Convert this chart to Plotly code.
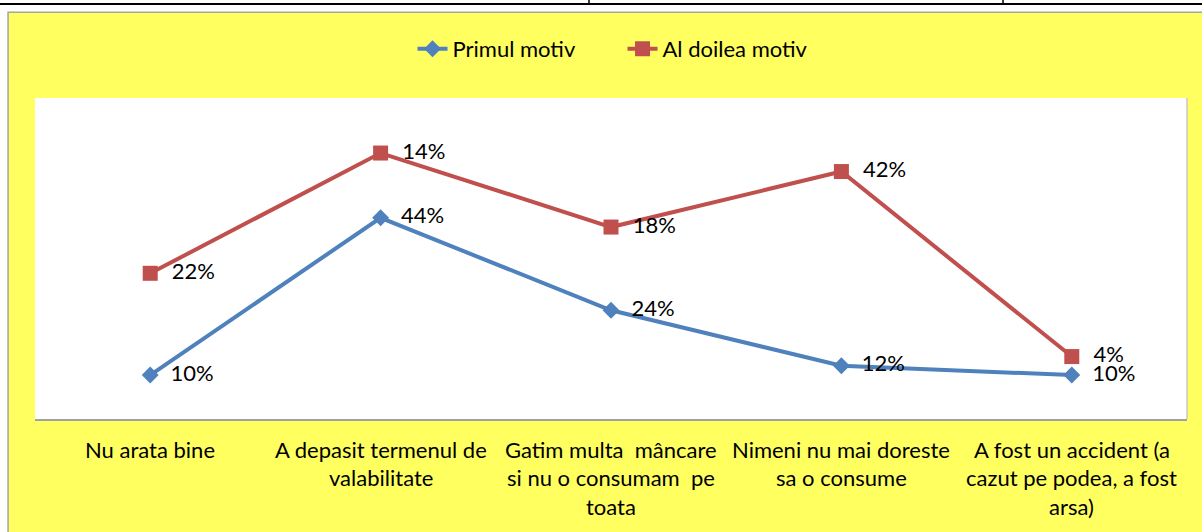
import plotly.graph_objects as go

categories = [
    "Nu arata bine",
    "A depasit termenul de<br>valabilitate",
    "Gatim multa \u00a0mâncare<br>si nu o consumam \u00a0pe<br>toata",
    "Nimeni nu mai doreste<br>sa o consume",
    "A fost un accident (a<br>cazut pe podea, a fost<br>arsa)",
]
primul_motiv = [10, 44, 24, 12, 10]
al_doilea_motiv = [22, 14, 18, 42, 4]
series_names = ["Primul motiv", "Al doilea motiv"]

BLUE = "#4F81BD"
RED = "#C0504D"
YELLOW = "#FFFF60"
FONT = "Lato"
FS = 22

x_idx = list(range(len(categories)))

fig = go.Figure()
fig.add_trace(go.Scatter(
    x=x_idx, y=primul_motiv, name=series_names[0], stackgroup="s", fill="none",
    mode="lines+markers+text",
    line=dict(color=BLUE, width=4),
    marker=dict(symbol="diamond", size=13, color=BLUE),
    text=[f"{v}%" for v in primul_motiv],
    texttemplate="\u00a0\u00a0%{text}",
    textposition="middle right",
    textfont=dict(family=FONT, size=FS, color="#000000"),
))
fig.add_trace(go.Scatter(
    x=x_idx, y=al_doilea_motiv, name=series_names[1], stackgroup="s", fill="none",
    mode="lines+markers+text",
    line=dict(color=RED, width=4),
    marker=dict(symbol="square", size=15, color=RED),
    text=[f"{v}%" for v in al_doilea_motiv],
    texttemplate="\u00a0\u00a0%{text}",
    textposition="middle right",
    textfont=dict(family=FONT, size=FS, color="#000000"),
))

shapes = [
    # yellow chart area
    dict(type="rect", xref="paper", yref="paper", x0=-0.0234, x1=1.2, y0=-0.6, y1=1.267,
         fillcolor=YELLOW, line=dict(color="#A6A6A6", width=1.5), layer="below"),
    # white plot area
    dict(type="rect", xref="paper", yref="paper", x0=0, x1=1, y0=0, y1=1,
         fillcolor="#FFFFFF", line=dict(width=0), layer="below"),
    # right shadow of plot area
    dict(type="line", xref="paper", yref="paper", x0=1, x1=1, y0=0, y1=1,
         line=dict(color="#C8C8C8", width=1.5), layer="below"),
    # page table line at top
    dict(type="line", xref="paper", yref="paper", x0=-0.04, x1=1.02, y0=1.293, y1=1.293,
         line=dict(color="#000000", width=2)),
    dict(type="line", xref="paper", yref="paper", x0=0.4809, x1=0.4809, y0=1.293, y1=1.31,
         line=dict(color="#000000", width=1.5)),
    dict(type="line", xref="paper", yref="paper", x0=0.8403, x1=0.8403, y0=1.293, y1=1.31,
         line=dict(color="#000000", width=1.5)),
]

annotations = []
for i, cat in enumerate(categories):
    for j, line in enumerate(cat.split("<br>")):
        annotations.append(dict(
            x=i, y=0, xref="x", yref="paper", text=line, showarrow=False,
            xanchor="center", yanchor="middle", yshift=-30 - 28.5 * j,
            font=dict(family=FONT, size=FS, color="#000000"),
        ))

fig.update_layout(
    width=1202, height=532,
    margin=dict(l=35, r=15, t=98, b=113, autoexpand=False),
    paper_bgcolor="#FFFFFF",
    plot_bgcolor="rgba(0,0,0,0)",
    shapes=shapes,
    annotations=annotations,
    showlegend=True,
    legend=dict(orientation="h", x=0.51, xanchor="center", y=1.153, yanchor="middle",
                font=dict(family=FONT, size=FS, color="#000000"),
                bgcolor="rgba(0,0,0,0)", traceorder="normal", itemwidth=30,
                entrywidth=165, entrywidthmode="pixels"),
    xaxis=dict(range=[-0.5, 4.5], showgrid=False, zeroline=False, showticklabels=False,
               showline=True, linecolor="#A0A0A0", linewidth=1.5, fixedrange=True),
    yaxis=dict(range=[0.5, 69.9], showgrid=False, zeroline=False, showticklabels=False,
               showline=False, fixedrange=True),
)

fig.write_html(
    "out.html",
    config={"displayModeBar": False},
    post_script="document.body.style.margin='0';document.body.style.padding='0';",
)
